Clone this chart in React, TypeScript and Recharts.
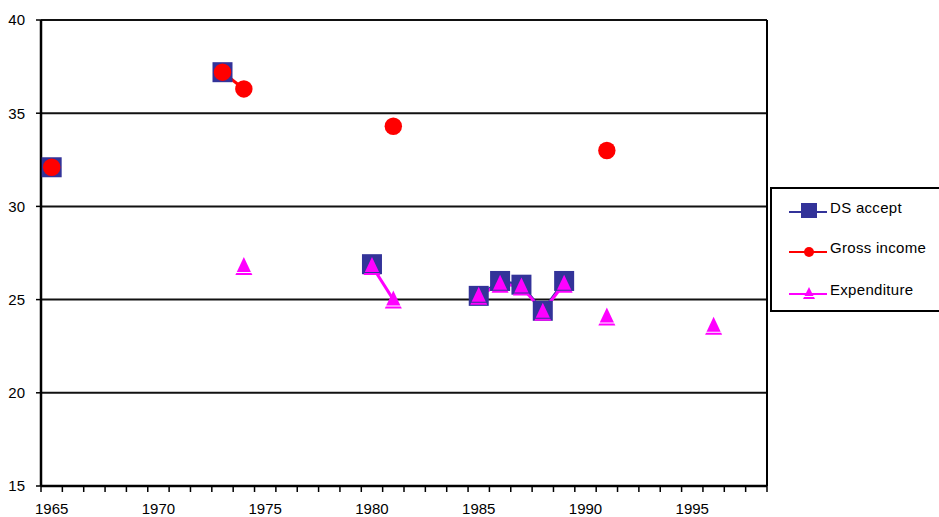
import React from 'react';
import { LineChart, Line, XAxis, YAxis, CartesianGrid, Legend, ReferenceLine } from 'recharts';

// ---- data ----
const years = [1965, 1973, 1974, 1980, 1981, 1985, 1986, 1987, 1988, 1989, 1991, 1996];
const dsAccept = [32.1, 37.2, null, 26.9, null, 25.2, 26.0, 25.8, 24.4, 26.0, null, null];
const grossIncome = [32.1, 37.2, 36.3, null, 34.3, null, null, null, null, null, 33.0, null];
const expenditure = [null, null, 26.8, 26.8, 25.0, 25.2, 25.85, 25.7, 24.35, 25.85, 24.1, 23.6];
const seriesNames = ['DS accept', 'Gross income', 'Expenditure'];
const yTicks = [15, 20, 25, 30, 35, 40];
const xLabelYears = [1965, 1970, 1975, 1980, 1985, 1990, 1995];
const FIRST_YEAR = 1965;
const LAST_YEAR = 1998;

// ---- layout ----
const W = 939;
const H = 517;
const PLOT_LEFT = 41;
const PLOT_RIGHT = 767;
const PLOT_TOP = 20;
const PLOT_BOTTOM = 486;
const X_MIN = FIRST_YEAR - 0.5;
const X_MAX = LAST_YEAR + 0.5;
const HALF_YEAR_PX = (PLOT_RIGHT - PLOT_LEFT) / (X_MAX - X_MIN) / 2;
const FONT = '"Liberation Sans", Arial, sans-serif';

const NAVY = '#333399';
const RED = '#FF0000';
const MAGENTA = '#FF00FF';

// full table, one row per year (nulls break the lines)
const table: any[] = [];
for (let y = FIRST_YEAR; y <= LAST_YEAR; y++) {
  const i = years.indexOf(y);
  table.push({
    year: y,
    ds: i >= 0 ? dsAccept[i] : null,
    gross: i >= 0 ? grossIncome[i] : null,
    exp: i >= 0 ? expenditure[i] : null,
  });
}
const halfTicks: number[] = [];
for (let y = FIRST_YEAR; y <= LAST_YEAR + 1; y++) halfTicks.push(y - 0.5);

const isNum = (v: any) => typeof v === 'number' && !isNaN(v);

const SquareDot = (props: any) => {
  const { cx, cy, value, index } = props;
  if (!isNum(cx) || !isNum(cy) || value == null) return <g key={`s${index}`} />;
  const s = 20;
  return <rect key={`s${index}`} x={cx - s / 2} y={cy - s / 2} width={s} height={s} fill={NAVY} />;
};
const CircleDot = (props: any) => {
  const { cx, cy, value, index } = props;
  if (!isNum(cx) || !isNum(cy) || value == null) return <g key={`c${index}`} />;
  return <circle key={`c${index}`} cx={cx} cy={cy} r={8.7} fill={RED} />;
};
const triPaths = (cx: number, cy: number, w: number, h: number) => {
  const top = cy - h / 2;
  const base = cy + h / 2;
  const gapTop = base - 3;
  const gapBot = base - 2;
  const halfAt = (yy: number) => ((yy - top) / h) * (w / 2);
  const a = `M${cx},${top} L${cx + halfAt(gapTop)},${gapTop} L${cx - halfAt(gapTop)},${gapTop} Z`;
  const b = `M${cx - halfAt(gapBot)},${gapBot} L${cx + halfAt(gapBot)},${gapBot} L${cx + w / 2},${base} L${cx - w / 2},${base} Z`;
  return [a, b];
};
const TriangleDot = (props: any) => {
  const { cx, cy, value, index } = props;
  if (!isNum(cx) || !isNum(cy) || value == null) return <g key={`t${index}`} />;
  const [a, b] = triPaths(cx, cy, 17, 18);
  return (
    <g key={`t${index}`}>
      <path d={a} fill={MAGENTA} />
      <path d={b} fill={MAGENTA} />
    </g>
  );
};

const XTick = (props: any) => {
  const { x, y, payload } = props;
  const yr = Math.round(payload.value + 0.5);
  if (Math.abs(payload.value + 0.5 - yr) > 1e-6 || !xLabelYears.includes(yr)) return <g />;
  return (
    <text x={x + HALF_YEAR_PX} y={y} dy={20} textAnchor="middle" fill="#000" fontSize={15} fontFamily={FONT}>
      {yr}
    </text>
  );
};

const LegendContent = (props: any) => {
  const payload = [...(props.payload || [])].sort(
    (a: any, b: any) => seriesNames.indexOf(a.value) - seriesNames.indexOf(b.value)
  );
  const rowY = [23, 63, 105];
  return (
    <div style={{ width: 175, height: 121, border: '2px solid #000', background: '#fff', boxSizing: 'content-box' }}>
      <svg width={175} height={121}>
        {payload.map((p: any, i: number) => {
          const cy = rowY[i];
          const color = p.color;
          let marker: any = null;
          if (p.dataKey === 'ds') marker = <rect x={37 - 8} y={cy - 9} width={16} height={15} fill={color} />;
          else if (p.dataKey === 'gross') marker = <circle cx={37} cy={cy} r={5} fill={color} />;
          else {
            const [a, b] = triPaths(37, cy - 1, 12, 12);
            marker = (
              <g>
                <path d={a} fill={color} />
                <path d={b} fill={color} />
              </g>
            );
          }
          return (
            <g key={p.value}>
              <line x1={17} x2={55} y1={cy} y2={cy} stroke={color} strokeWidth={2} />
              {marker}
              <text x={58} y={cy} dy={1} fill="#000" fontSize={15} fontFamily={FONT} style={{ letterSpacing: '0.3px' }}>
                {p.value}
              </text>
            </g>
          );
        })}
      </svg>
    </div>
  );
};

export default function App() {
  return (
    <div style={{ position: 'absolute', left: 0, top: 0, width: W, height: H, overflow: 'hidden', background: '#fff' }}>
      <LineChart
        width={W}
        height={H}
        data={table}
        margin={{ top: PLOT_TOP, right: W - PLOT_RIGHT, bottom: H - PLOT_BOTTOM - 31, left: 0 }}
      >
        <CartesianGrid horizontal vertical={false} stroke="#111" strokeWidth={2} />
        <XAxis
          dataKey="year"
          type="number"
          domain={[X_MIN, X_MAX]}
          ticks={halfTicks}
          interval={0}
          allowDataOverflow
          height={31}
          tickSize={6}
          tickMargin={2}
          axisLine={{ stroke: '#000', strokeWidth: 2.5 }}
          tickLine={{ stroke: '#000', strokeWidth: 1.5 }}
          tick={<XTick />}
        />
        <YAxis
          type="number"
          domain={[15, 40]}
          ticks={yTicks}
          interval={0}
          width={PLOT_LEFT}
          tickSize={5}
          tickMargin={11}
          axisLine={{ stroke: '#000', strokeWidth: 2.5 }}
          tickLine={{ stroke: '#000', strokeWidth: 1.5 }}
          tick={{ fill: '#000', fontSize: 15, fontFamily: FONT }}
        />
        <ReferenceLine x={X_MAX} stroke="#000" strokeWidth={2} ifOverflow="visible" />
        <Legend
          layout="vertical"
          align="center"
          verticalAlign="middle"
          content={<LegendContent />}
          wrapperStyle={{ left: 770, top: 187, width: 180, height: 125 }}
        />
        <Line
          name={seriesNames[0]}
          dataKey="ds"
          stroke={NAVY}
          strokeWidth={2.5}
          dot={SquareDot}
          activeDot={false}
          connectNulls={false}
          isAnimationActive={false}
        />
        <Line
          name={seriesNames[1]}
          dataKey="gross"
          stroke={RED}
          strokeWidth={3}
          dot={CircleDot}
          activeDot={false}
          connectNulls={false}
          isAnimationActive={false}
        />
        <Line
          name={seriesNames[2]}
          dataKey="exp"
          stroke={MAGENTA}
          strokeWidth={3}
          dot={TriangleDot}
          activeDot={false}
          connectNulls={false}
          isAnimationActive={false}
        />
      </LineChart>
    </div>
  );
}
